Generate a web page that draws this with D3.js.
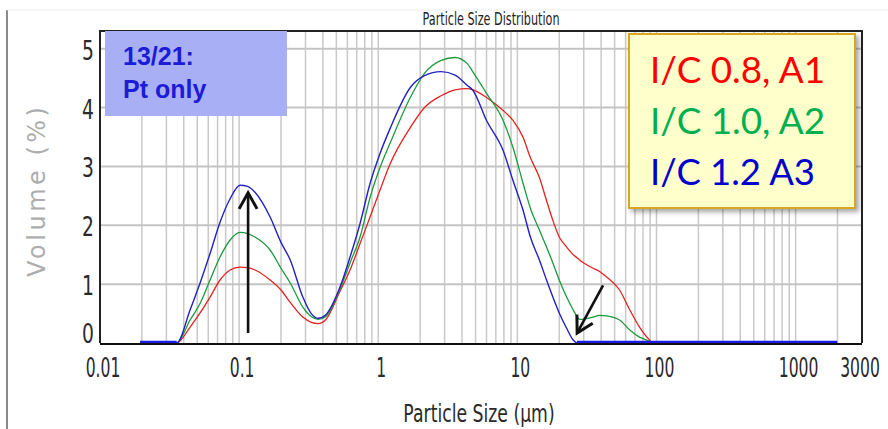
<!DOCTYPE html>
<html><head><meta charset="utf-8">
<script src="https://cdn.jsdelivr.net/npm/d3@7"></script>
<style>body{margin:0;background:#fff}svg{display:block}</style>
</head><body>
<svg id="c" width="888" height="429"></svg>
<script>
// ---- data ----
const sizes = [0.0194, 0.0356, 0.0444, 0.0524, 0.0618, 0.0729, 0.0861, 0.1015, 0.115, 0.13, 0.167, 0.2, 0.233, 0.287, 0.33, 0.37, 0.42, 0.531, 0.627, 0.74, 0.873, 1.03, 1.22, 1.7, 2.15, 2.83, 3.57, 4.35, 4.8, 6.0, 7.9, 9.3, 11.0, 12.4, 14.4, 16.2, 18.0, 20.0, 22.6, 25.2, 26.8, 28.0, 35.0, 38.8, 43.8, 54.3, 64.3, 75.5, 86.9, 95, 1990];
const volA1 = [0, 0, 0.27, 0.51, 0.78, 1.07, 1.24, 1.29, 1.28, 1.24, 1.07, 0.90, 0.69, 0.44, 0.35, 0.33, 0.40, 0.88, 1.24, 1.69, 2.14, 2.60, 3.05, 3.66, 4.00, 4.20, 4.30, 4.32, 4.30, 4.17, 3.95, 3.78, 3.49, 3.15, 2.81, 2.42, 2.08, 1.80, 1.63, 1.50, 1.45, 1.41, 1.27, 1.22, 1.12, 0.90, 0.56, 0.27, 0.08, 0, 0];
const volA2 = [0, 0, 0.39, 0.67, 1.07, 1.46, 1.75, 1.88, 1.86, 1.80, 1.58, 1.27, 1.02, 0.61, 0.45, 0.40, 0.45, 0.92, 1.36, 1.80, 2.47, 2.98, 3.40, 4.17, 4.58, 4.80, 4.85, 4.75, 4.60, 4.24, 3.78, 3.32, 2.71, 2.29, 1.92, 1.63, 1.36, 1.07, 0.78, 0.56, 0.45, 0.40, 0.44, 0.47, 0.46, 0.39, 0.22, 0.10, 0.04, 0, 0];
const volA3 = [0, 0, 0.56, 1.02, 1.52, 2.05, 2.45, 2.68, 2.66, 2.56, 2.14, 1.71, 1.41, 0.78, 0.50, 0.42, 0.48, 0.95, 1.46, 2.03, 2.71, 3.22, 3.65, 4.34, 4.54, 4.61, 4.55, 4.38, 4.29, 3.78, 3.27, 2.76, 2.25, 1.80, 1.41, 1.07, 0.78, 0.51, 0.25, 0.05, 0, 0, 0, 0, 0, 0, 0, 0, 0, 0, 0];
const seriesNames = ["I/C 0.8, A1", "I/C 1.0, A2", "I/C 1.2 A3"];
const xTickValues = [0.01, 0.1, 1, 10, 100, 1000, 3000];
const xTickLabels = ["0.01", "0.1", "1", "10", "100", "1000", "3000"];
const yTickValues = [0, 1, 2, 3, 4, 5];
const noteLines = ["13/21:", "Pt only"];
const arrowStarts = [[0.116, 0.17], [41.3, 0.98]];
const arrowEnds = [[0.116, 2.55], [26.9, 0.17]];
const chartTitle = "Particle Size Distribution";
const xTitle = "Particle Size (\u00b5m)";
const yTitle = "Volume (%)";

// ---- styles ----
const curveColors = ["#e3231f", "#1d9a3c", "#2222c4"];
const legendColors = ["#ff0000", "#00b050", "#0000cc"];

const svg = d3.select("#c");
const L = 100, R = 862, T = 31, B = 343;
const x = d3.scaleLog().domain([0.01, 3000]).range([L, R]);
const y = d3.scaleLinear().domain([0, 5.3]).range([B, T]);

const defs = svg.append("defs");
const f = defs.append("filter").attr("id", "sh").attr("x", "-10%").attr("y", "-10%").attr("width", "130%").attr("height", "130%");
f.append("feDropShadow").attr("dx", 3).attr("dy", 3).attr("stdDeviation", 2.5).attr("flood-color", "#000").attr("flood-opacity", 0.35);
defs.append("marker").attr("id", "ah").attr("markerUnits", "userSpaceOnUse")
  .attr("viewBox", "-20 -12 24 24").attr("markerWidth", 24).attr("markerHeight", 24)
  .attr("refX", 0).attr("refY", 0).attr("orient", "auto")
  .append("path").attr("d", "M-16,-9 L0,0 L-16,9").attr("fill", "none")
  .attr("stroke", "#111").attr("stroke-width", 3).attr("stroke-linejoin", "miter");

// helper: horizontally condensed text (scaled group)
const tickFont = "DejaVu Sans, Verdana, sans-serif";
function condensed(parent, cx, baseline, str, size, sx, fill) {
  const gg = parent.append("g").attr("transform", `translate(${cx},${baseline}) scale(${sx},1)`);
  return gg.append("text").attr("text-anchor", "middle").attr("font-family", tickFont)
    .attr("font-size", size).attr("fill", fill).text(str);
}

// outer frame
svg.append("line").attr("x1", 7).attr("x2", 7).attr("y1", 10).attr("y2", 429).attr("stroke", "#8a8a8a").attr("stroke-width", 2);
svg.append("line").attr("x1", 7).attr("x2", 888).attr("y1", 10).attr("y2", 10).attr("stroke", "#ececec").attr("stroke-width", 1);

// grid
const g = svg.append("g");
g.selectAll("line.vg").data(x.ticks(30).filter(v => v > 0.01 && v < 3000)).join("line")
  .attr("x1", d => x(d)).attr("x2", d => x(d)).attr("y1", T).attr("y2", B)
  .attr("stroke", "#c9c9c9").attr("stroke-width", 1.5);
g.selectAll("line.hg").data(yTickValues.filter(v => v > 0)).join("line")
  .attr("x1", L).attr("x2", R).attr("y1", d => y(d)).attr("y2", d => y(d))
  .attr("stroke", "#c4c4c4").attr("stroke-width", 2);

// frame
svg.append("path").attr("d", `M${L},${B} V${T} H${R} V${B}`).attr("fill", "none").attr("stroke", "#222").attr("stroke-width", 2);

// note box
svg.append("rect").attr("x", 105).attr("y", 31).attr("width", 182).attr("height", 85).attr("fill", "#a9aff5");
svg.selectAll("text.note").data(noteLines).join("text")
  .attr("x", 123).attr("y", (d, i) => 65 + i * 33)
  .attr("font-family", "Liberation Sans, Arial, sans-serif").attr("font-weight", "bold").attr("font-size", 25)
  .attr("fill", "#1c1cd6").text(d => d);

// curves
const series = [volA1, volA2, volA3];
const line = d3.line().x(d => x(d[0])).y(d => y(d[1])).curve(d3.curveMonotoneX);
series.forEach((vals, i) => {
  svg.append("path").datum(sizes.map((s, k) => [s, vals[k]]))
    .attr("d", line).attr("fill", "none").attr("stroke", curveColors[i]).attr("stroke-width", i === 2 ? 1.4 : 1.3);
});
// blue baseline drawn heavier at zero
const zeroRuns = [[sizes[0], sizes[1]], [26.8, sizes[sizes.length - 1]]];
svg.selectAll("line.zr").data(zeroRuns).join("line")
  .attr("x1", d => x(d[0])).attr("x2", d => x(d[1])).attr("y1", y(0) - 1).attr("y2", y(0) - 1)
  .attr("stroke", "#1a1ae8").attr("stroke-width", 2.5);

// bottom axis line
svg.append("line").attr("x1", L).attr("x2", R).attr("y1", B + 1).attr("y2", B + 1).attr("stroke", "#111").attr("stroke-width", 2);

// arrows
svg.selectAll("line.ar").data(arrowStarts).join("line")
  .attr("x1", d => x(d[0])).attr("y1", d => y(d[1]))
  .attr("x2", (d, i) => x(arrowEnds[i][0])).attr("y2", (d, i) => y(arrowEnds[i][1]))
  .attr("stroke", "#111").attr("stroke-width", 2.6).attr("marker-end", "url(#ah)");

// tick labels
xTickValues.forEach((v, i) => {
  condensed(svg, Math.min(x(v) + 3, 860), 377, xTickLabels[i], 26, 0.6, "#2a2a2a");
});
yTickValues.forEach(v => {
  condensed(svg, 88, v === 0 ? y(v) : y(v) + 11, String(v), 26, 0.72, "#2a2a2a");
});

// titles
condensed(svg, 491, 25, chartTitle, 17, 0.66, "#222");
condensed(svg, 479, 422, xTitle, 25, 0.69, "#2a2a2a");
svg.append("text").attr("transform", "translate(45,190) rotate(-90)").attr("text-anchor", "middle")
  .attr("font-family", tickFont).attr("font-size", 24).attr("fill", "#adadad")
  .attr("letter-spacing", 4)
  .attr("textLength", 174).attr("lengthAdjust", "spacing").text(yTitle);

// legend
svg.append("rect").attr("x", 629).attr("y", 34).attr("width", 226).attr("height", 174)
  .attr("fill", "#ffffcc").attr("stroke", "#d9a521").attr("stroke-width", 2).attr("filter", "url(#sh)");
svg.selectAll("text.lg").data(seriesNames).join("text")
  .attr("x", 650).attr("y", (d, i) => 83 + i * 51)
  .attr("font-family", "Lato, Open Sans, sans-serif").attr("font-size", 37)
  .attr("fill", (d, i) => legendColors[i])
  .attr("textLength", (d, i) => i === 2 ? 165 : 175).attr("lengthAdjust", "spacingAndGlyphs")
  .text(d => d);
</script>
</body></html>
